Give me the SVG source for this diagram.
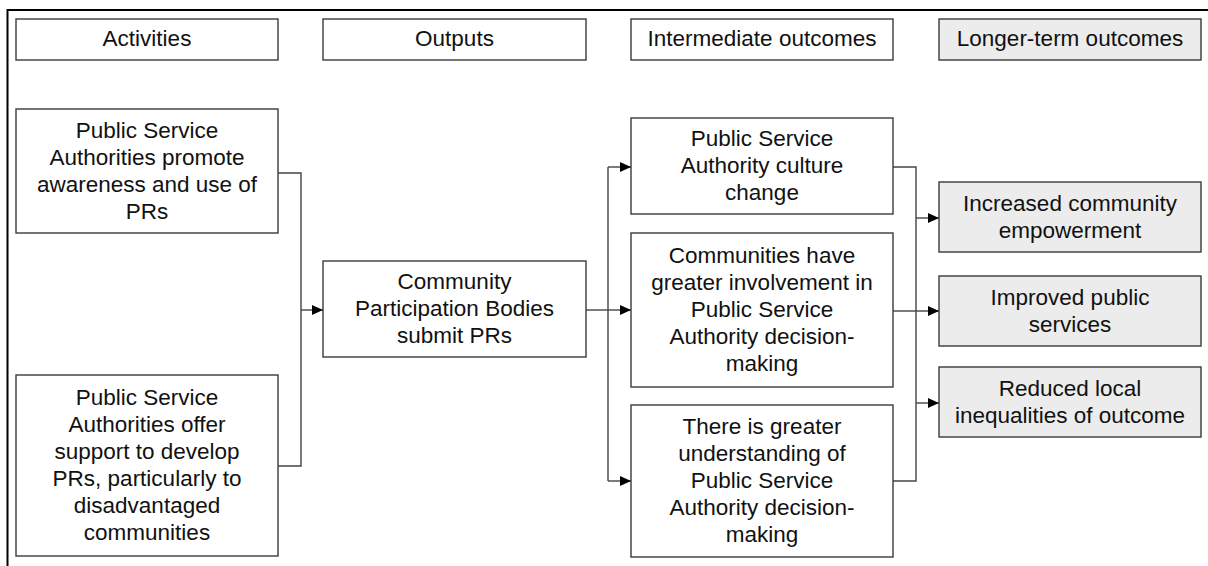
<svg xmlns="http://www.w3.org/2000/svg" width="1208" height="566" viewBox="0 0 1208 566">
<style>
.box{fill:#fff;stroke:#3a3a3a;stroke-width:1.4}
.lt{fill:#ececec;stroke:#3a3a3a;stroke-width:1.4}
.t{font-family:"Liberation Sans",Arial,sans-serif;font-size:22.5px;fill:#111;text-anchor:middle}
.c{fill:none;stroke:#444;stroke-width:1.4}
.frame{fill:none;stroke:#000;stroke-width:2}
</style>
<defs>
<marker id="ah" markerUnits="userSpaceOnUse" markerWidth="12" markerHeight="11" refX="11" refY="5" orient="auto">
<path d="M0,0 L11,5 L0,10 z" fill="#000"/>
</marker>
</defs>
<rect width="1208" height="566" fill="#fff"/>
<path class="frame" d="M7.5,566 V10 H1208"/>

<g id="h-activities"><rect class="box" x="16" y="19" width="262" height="41"/><text class="t" x="147" y="46">Activities</text></g>
<g id="h-outputs"><rect class="box" x="323" y="19" width="263" height="41"/><text class="t" x="454.5" y="46">Outputs</text></g>
<g id="h-intermediate"><rect class="box" x="631" y="19" width="262" height="41"/><text class="t" x="762" y="46">Intermediate outcomes</text></g>
<g id="h-longer"><rect class="lt" x="939" y="19" width="262" height="41"/><text class="t" x="1070" y="46">Longer-term outcomes</text></g>

<g id="a1"><rect class="box" x="16" y="109" width="262" height="124"/>
<text class="t"><tspan x="147" y="137.5">Public Service</tspan><tspan x="147" y="164.5">Authorities promote</tspan><tspan x="147" y="191.5">awareness and use of</tspan><tspan x="147" y="218.5">PRs</tspan></text></g>

<g id="a2"><rect class="box" x="16" y="375" width="262" height="181"/>
<text class="t"><tspan x="147" y="405">Public Service</tspan><tspan x="147" y="432">Authorities offer</tspan><tspan x="147" y="459">support to develop</tspan><tspan x="147" y="486">PRs, particularly to</tspan><tspan x="147" y="513">disadvantaged</tspan><tspan x="147" y="540">communities</tspan></text></g>

<g id="o1"><rect class="box" x="323" y="261" width="263" height="96"/>
<text class="t"><tspan x="454.5" y="288.5">Community</tspan><tspan x="454.5" y="315.5">Participation Bodies</tspan><tspan x="454.5" y="342.5">submit PRs</tspan></text></g>

<g id="i1"><rect class="box" x="631" y="118" width="262" height="96"/>
<text class="t"><tspan x="762" y="146">Public Service</tspan><tspan x="762" y="173">Authority culture</tspan><tspan x="762" y="200">change</tspan></text></g>

<g id="i2"><rect class="box" x="631" y="233" width="262" height="154"/>
<text class="t"><tspan x="762" y="263">Communities have</tspan><tspan x="762" y="290">greater involvement in</tspan><tspan x="762" y="317">Public Service</tspan><tspan x="762" y="344">Authority decision-</tspan><tspan x="762" y="371">making</tspan></text></g>

<g id="i3"><rect class="box" x="631" y="405" width="262" height="152"/>
<text class="t"><tspan x="762" y="434">There is greater</tspan><tspan x="762" y="461">understanding of</tspan><tspan x="762" y="488">Public Service</tspan><tspan x="762" y="515">Authority decision-</tspan><tspan x="762" y="542">making</tspan></text></g>

<g id="l1"><rect class="lt" x="939" y="182" width="262" height="70"/>
<text class="t"><tspan x="1070" y="210.5">Increased community</tspan><tspan x="1070" y="237.5">empowerment</tspan></text></g>

<g id="l2"><rect class="lt" x="939" y="276" width="262" height="70"/>
<text class="t"><tspan x="1070" y="304.5">Improved public</tspan><tspan x="1070" y="331.5">services</tspan></text></g>

<g id="l3"><rect class="lt" x="939" y="367" width="262" height="70"/>
<text class="t"><tspan x="1070" y="395.5">Reduced local</tspan><tspan x="1070" y="422.5">inequalities of outcome</tspan></text></g>

<g id="connectors">
<path class="c" d="M278,173 H301 V466 H278"/>
<path class="c" d="M301,310 H323" marker-end="url(#ah)"/>
<path class="c" d="M586,310 H608"/>
<path class="c" d="M608,167 V481"/>
<path class="c" d="M608,167 H631" marker-end="url(#ah)"/>
<path class="c" d="M608,310 H631" marker-end="url(#ah)"/>
<path class="c" d="M608,481 H631" marker-end="url(#ah)"/>
<path class="c" d="M893,167 H916 V481 H893"/>
<path class="c" d="M893,311 H916"/>
<path class="c" d="M916,218 H939" marker-end="url(#ah)"/>
<path class="c" d="M916,311 H939" marker-end="url(#ah)"/>
<path class="c" d="M916,403 H939" marker-end="url(#ah)"/>
</g>
</svg>
